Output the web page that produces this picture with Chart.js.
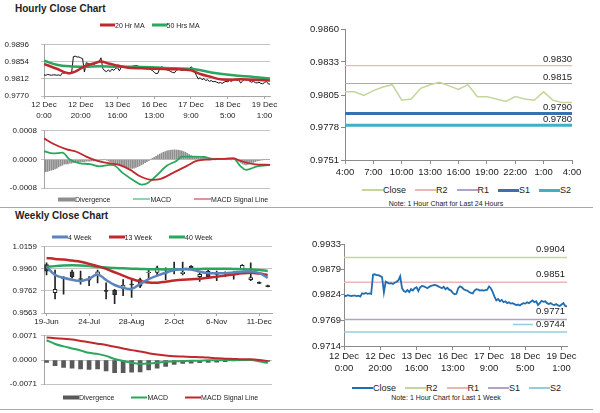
<!DOCTYPE html>
<html>
<head>
<meta charset="utf-8">
<script src="https://cdn.jsdelivr.net/npm/chart.js@4.4.1/dist/chart.umd.min.js"></script>
<style>
  body { margin: 0; background: #fff; width: 600px; height: 413px; position: relative; overflow: hidden;
         font-family: "Liberation Sans", Arial, sans-serif; color: #222; }
  canvas { position: absolute; }
  .title { position: absolute; left: 15px; font-weight: bold; font-size: 10px; line-height: 12px; }
  .legend { position: absolute; display: flex; align-items: center; white-space: nowrap; transform: translateY(-50%); }
  .legend .item { display: flex; align-items: center; }
  .note { position: absolute; font-size: 7px; white-space: nowrap; transform: translate(-50%, -50%); }
  .rule { position: absolute; left: 0; width: 593px; height: 1px; background: #a8a8a8; }
</style>
</head>
<body>
<div class="title" style="top:3px">Hourly Close Chart</div>
<div class="title" style="top:210px">Weekly Close Chart</div>
<div class="rule" style="top:207px"></div>
<div class="rule" style="top:409px"></div>
<div class="note" style="left:446px;top:203px">Note: 1 Hour Chart for Last 24 Hours</div>
<div class="note" style="left:446px;top:397px">Note: 1 Hour Chart for Last 1 Week</div>

<canvas id="hourPrice" width="280" height="96" style="left:0;top:28px"></canvas>
<canvas id="hourMacd" width="280" height="75" style="left:0;top:122px"></canvas>
<canvas id="weekPrice" width="282" height="91" style="left:0;top:238px"></canvas>
<canvas id="weekMacd" width="282" height="66" style="left:0;top:327px"></canvas>
<canvas id="dayLevels" width="285" height="158" style="left:300px;top:22px"></canvas>
<canvas id="weekLevels" width="280" height="140" style="left:300px;top:238px"></canvas>

<script>
// ---- hourly data, last week (124 hours) ----
const hourTickIdx = [0, 20, 40, 60, 80, 100, 120];
const hourTickDay = ["12 Dec", "12 Dec", "13 Dec", "16 Dec", "17 Dec", "18 Dec", "19 Dec"];
const hourTickTime = ["0:00", "20:00", "16:00", "13:00", "9:00", "5:00", "1:00"];

const hourClose = [
  0.9822, 0.9821, 0.9823, 0.9822, 0.9821, 0.9822, 0.9822, 0.9821, 0.9822, 0.9820,
  0.9827, 0.9826, 0.9828, 0.9826, 0.9827, 0.9826, 0.9867, 0.9868, 0.9866, 0.9866,
  0.9864, 0.9862, 0.9829, 0.9852, 0.9850, 0.9848, 0.9849, 0.9847, 0.9850, 0.9852,
  0.9855, 0.9864, 0.9838, 0.9832, 0.9830, 0.9834, 0.9830, 0.9836, 0.9833, 0.9838,
  0.9840, 0.9832, 0.9840, 0.9843, 0.9842, 0.9840, 0.9838, 0.9841, 0.9843, 0.9844,
  0.9845, 0.9844, 0.9842, 0.9840, 0.9838, 0.9841, 0.9836, 0.9839, 0.9835, 0.9833,
  0.9828, 0.9825, 0.9826, 0.9838, 0.9842, 0.9840, 0.9836, 0.9834, 0.9833, 0.9830,
  0.9828, 0.9827, 0.9833, 0.9836, 0.9835, 0.9833, 0.9834, 0.9833, 0.9834, 0.9835,
  0.9842, 0.9838, 0.9830, 0.9820, 0.9812, 0.9815, 0.9810, 0.9813, 0.9808, 0.9810,
  0.9806, 0.9808, 0.9805, 0.9806, 0.9804, 0.9802, 0.9803, 0.9801, 0.9804, 0.9806,
  0.9805, 0.9808, 0.9806, 0.9809, 0.9812, 0.9808, 0.9810, 0.9802, 0.9806, 0.9811,
  0.9809, 0.9810, 0.9806, 0.9804, 0.9806, 0.9803, 0.9802, 0.9804, 0.9801, 0.9800,
  0.9803, 0.9806, 0.9800, 0.9799
];

const ma20Idx = [0, 7, 14, 17, 22, 27, 31, 35, 40, 45, 53, 62, 71, 80, 85, 91, 96, 102, 107, 114, 123];
const ma20Val = [0.9849, 0.9837, 0.9826, 0.9830, 0.9843, 0.9850, 0.9855, 0.9850, 0.9845, 0.9840, 0.9838,
                 0.9837, 0.9836, 0.9833, 0.9824, 0.9817, 0.9811, 0.9810, 0.9811, 0.9810, 0.9808];
const ma50Idx = [0, 7, 14, 22, 30, 40, 49, 62, 71, 80, 91, 103, 114, 123];
const ma50Val = [0.9857, 0.9847, 0.9843, 0.9842, 0.9843, 0.9842, 0.9842, 0.9840, 0.9838, 0.9837,
                 0.9828, 0.9821, 0.9817, 0.9813];

const macdIdx = [0, 5, 10, 14, 19, 25, 30, 36, 38, 43, 49, 53, 56, 61, 67, 72, 75, 81, 87, 92, 98, 103, 107, 110, 116, 123];
const macdVal = [0.00023, 0.00017, 0.00019, 0.0, -0.0001, -0.00013, -0.00019, -0.00015, -0.00016, -0.00038,
                 -0.00059, -0.0007, -0.00067, -0.00046, -0.00017, -0.00004, 0.00008, 0.00008, 0.00007, 0.00002,
                 0.00002, 0.00003, -0.00019, -0.00029, -0.00019, -0.00015];
const signalIdx = [0, 5, 12, 18, 23, 29, 36, 41, 47, 52, 59, 63, 70, 78, 83, 90, 98, 103, 107, 114, 123];
const signalVal = [0.00059, 0.00044, 0.00029, 0.00021, 0.00008, -0.00004, -0.00011, -0.00015, -0.00029, -0.00046,
                   -0.00057, -0.00055, -0.00038, -0.00017, -0.00004, 0.0, 0.00002, 0.00003, -0.00004, -0.00013, -0.00015];
const hourDiv = [
  -0.00035, -0.00034, -0.00033, -0.00031, -0.0003, -0.00028, -0.00026, -0.00024, -0.00021, -0.00018,
  -0.00016, -0.00013, -0.00012, -0.00012, -0.0001, -0.0001, -0.00009, -0.00008, -0.00008, -0.00007,
  -0.00007, -0.00006, -0.00006, -0.00005, -0.00005, -0.00005, -0.00004, -0.00004, -0.00003, -0.00003,
  -0.00003, -0.00002, -0.00001, 0.0, -0.00002, -0.00004, -0.00006, -0.00008, -0.0001, -0.00012,
  -0.00014, -0.00016, -0.00018, -0.0002, -0.00021, -0.00022, -0.00023, -0.00024, -0.00025, -0.00024,
  -0.00022, -0.0002, -0.00018, -0.00015, -0.00012, -0.00009, -0.00006, -0.00003, 0.0, 0.00003,
  0.00006, 0.00009, 0.00012, 0.00015, 0.00018, 0.0002, 0.00022, 0.00024, 0.00025, 0.00026,
  0.00026, 0.00027, 0.00026, 0.00026, 0.00025, 0.00024, 0.00022, 0.0002, 0.00017, 0.00014,
  0.00011, 0.00009, 0.00008, 0.00007, 0.00006, 0.00005, 0.00004, 0.00004, 0.00003, 0.00002,
  0.00001, 0.0, 0.0, -0.00001, 0.0, 0.00001, 0.00001, 0.0, 0.0, 0.00001,
  0.0, 0.0, -0.00001, 0.0, 0.00001, 0.0, -0.00004, -0.00008, -0.00012, -0.00014,
  -0.00015, -0.00014, -0.00012, -0.0001, -0.00008, -0.00006, -0.00004, -0.00003, -0.00002, -0.00001,
  0.0, 0.0, 0.0, 0.0
];

// ---- weekly data (27 weeks) ----
const weekTickIdx = [0, 5, 10, 15, 20, 25];
const weekTickText = ["19-Jun", "24-Jul", "28-Aug", "2-Oct", "6-Nov", "11-Dec"];
const weekOpen  = [0.9998, 0.9747, 0.9882, 0.9934, 0.9874, 0.9866, 0.9905, 0.9766, 0.9768, 0.9785, 0.9824, 0.9863, 0.9924, 0.9928,
                   0.9929, 0.9967, 0.9918, 0.9986, 0.9891, 0.9940, 0.9918, 0.9924, 0.9924, 0.9963, 0.9863, 0.9838, 0.9809];
const weekClose = [0.9940, 0.9776, 0.9872, 0.9891, 0.9866, 0.9858, 0.9934, 0.9758, 0.9728, 0.9814, 0.9816, 0.9805, 0.9932, 0.9969,
                   0.9921, 0.9959, 0.9930, 0.9969, 0.9911, 0.9891, 0.9910, 0.9916, 0.9916, 0.9992, 0.9883, 0.9830, 0.9801];
const weekHigh  = [1.0015, 0.9949, 0.9890, 0.9949, 0.9940, 0.9891, 0.9949, 0.9834, 0.9776, 0.9863, 0.9871, 0.9877, 0.9949, 0.9986,
                   0.9969, 1.0021, 1.0021, 0.9990, 0.9920, 0.9949, 0.9940, 0.9934, 0.9934, 0.9998, 1.0015, 0.9843, 0.9814];
const weekLow   = [0.9906, 0.9690, 0.9733, 0.9877, 0.9822, 0.9808, 0.9834, 0.9690, 0.9647, 0.9719, 0.9704, 0.9791, 0.9877, 0.9906,
                   0.9863, 0.9914, 0.9906, 0.9963, 0.9848, 0.9877, 0.9854, 0.9891, 0.9868, 0.9957, 0.9854, 0.9826, 0.9797];
const ma4w  = [0.9980, 0.9906, 0.9880, 0.9862, 0.9852, 0.9870, 0.9910, 0.9860, 0.9815, 0.9790, 0.9780, 0.9825, 0.9868, 0.9900,
               0.9925, 0.9950, 0.9958, 0.9955, 0.9935, 0.9922, 0.9920, 0.9922, 0.9928, 0.9935, 0.9936, 0.9922, 0.9880];
const ma13w = [1.0058, 1.0050, 1.0045, 1.0035, 1.0025, 1.0005, 0.9985, 0.9960, 0.9930, 0.9900, 0.9870, 0.9848, 0.9838, 0.9836,
               0.9845, 0.9855, 0.9862, 0.9866, 0.9872, 0.9880, 0.9890, 0.9900, 0.9910, 0.9920, 0.9925, 0.9918, 0.9905];
const ma40w = [0.9978, 0.9985, 0.9990, 0.9992, 0.9990, 0.9985, 0.9978, 0.9972, 0.9968, 0.9965, 0.9962, 0.9960, 0.9958, 0.9956,
               0.9955, 0.9956, 0.9958, 0.9960, 0.9960, 0.9961, 0.9962, 0.9962, 0.9960, 0.9958, 0.9955, 0.9950, 0.9942];
const weekMacd   = [0.0058, 0.0047, 0.0040, 0.0034, 0.0028, 0.0021, 0.0018, 0.0012, 0.0003, -0.0003, -0.0008, -0.0011, -0.0010, -0.0008,
                    -0.0005, -0.0004, -0.0003, -0.0002, -0.0002, -0.0001, -0.0001, 0.0, 0.0, 0.0, 0.0, -0.0004, -0.0009];
const weekSignal = [0.0066, 0.0064, 0.0062, 0.0060, 0.0056, 0.0052, 0.0048, 0.0044, 0.0039, 0.0034, 0.0029, 0.0025, 0.0020, 0.0016,
                    0.0013, 0.0011, 0.0010, 0.0009, 0.0008, 0.0007, 0.0005, 0.0004, 0.0003, 0.0002, 0.0002, 0.0000, -0.0003];
const weekDiv    = [-0.0007, -0.0017, -0.0022, -0.0024, -0.0026, -0.0028, -0.0026, -0.0032, -0.0037, -0.0037, -0.0036, -0.0035, -0.0029, -0.0024,
                    -0.0019, -0.0013, -0.0010, -0.0009, -0.0008, -0.0007, -0.0006, -0.0005, -0.0003, -0.0002, -0.0001, -0.0001, -0.0004];

// ---- last 24 hours ----
const dayTickIdx = [0, 3, 6, 9, 12, 15, 18, 21, 24];
const dayTickText = ["4:00", "7:00", "10:00", "13:00", "16:00", "19:00", "22:00", "1:00", "4:00"];
const dayClose = [0.9808, 0.9808, 0.9805, 0.9809, 0.9812, 0.9814, 0.9801, 0.9802, 0.9811, 0.9814, 0.9816, 0.9813, 0.9810,
                  0.9814, 0.9804, 0.9804, 0.9802, 0.9800, 0.9804, 0.9802, 0.9801, 0.9808, 0.9801, 0.9799, 0.9799];
const dayLevelNames = ["R2", "R1", "S1", "S2"];
const dayLevelValues = [0.9830, 0.9815, 0.9790, 0.9780];
const weekLevelNames = ["R2", "R1", "S1", "S2"];
const weekLevelValues = [0.9904, 0.9851, 0.9771, 0.9744];

// y tick values
const hourPriceTicks = [0.9770, 0.9812, 0.9854, 0.9896];
const hourMacdTicks = [-0.0008, 0, 0.0008];
const weekPriceTicks = [0.9563, 0.9762, 0.9960, 1.0159];
const weekMacdTicks = [-0.0071, 0, 0.0071];
const dayTicks = [0.9751, 0.9778, 0.9805, 0.9833, 0.9860];
const weekLevelTicks = [0.9714, 0.9769, 0.9824, 0.9879, 0.9933];

Chart.defaults.font.family = "Liberation Sans";
Chart.defaults.color = "#222";
Chart.defaults.animation = false;
Chart.defaults.plugins.legend.display = false;
Chart.defaults.plugins.tooltip.enabled = false;
Chart.defaults.elements.point.radius = 0;

const pts = (xs, ys) => xs.map((x, i) => ({ x: x, y: ys[i] }));
const seq = ys => ys.map((y, i) => ({ x: i, y: y }));

// y axis with fixed width and given tick values
function yScale(ticks, width, font, pad, tickLen, onArea) {
  return {
    min: ticks[0], max: ticks[ticks.length - 1],
    afterBuildTicks: s => { s.ticks = ticks.map(v => ({ value: v })); },
    afterFit: s => { s.width = width; },
    ticks: { font: font, padding: pad, callback: v => v.toFixed(4) },
    grid: { color: onArea ? "#c4c4c4" : "#8a8a8a", drawOnChartArea: onArea, tickLength: tickLen },
    border: { color: onArea ? "#a6a6a6" : "#8a8a8a" }
  };
}

// x axis (linear) with labels only at given positions
function xScale(min, max, idx, labelOf, height, font, pad, tickLen, color) {
  return {
    type: "linear", min: min, max: max, offset: false,
    afterBuildTicks: s => { s.ticks = idx.map(v => ({ value: v })); },
    afterFit: s => { s.height = height; },
    ticks: { font: font, padding: pad, maxRotation: 0, autoSkip: false,
             callback: v => { const k = idx.indexOf(v); return k < 0 ? "" : labelOf(k); } },
    grid: { drawOnChartArea: false, tickLength: tickLen, color: color, offset: false },
    border: { color: color }
  };
}

// level value captions at the right end of each level line
const levelText = {
  id: "levelText",
  afterDatasetsDraw(chart, args, opts) {
    const { ctx, chartArea } = chart;
    const y = chart.scales.y;
    ctx.save();
    ctx.font = opts.font;
    ctx.fillStyle = "#222";
    ctx.textAlign = "right";
    ctx.textBaseline = "middle";
    opts.values.forEach(v => {
      ctx.fillText(v.toFixed(4), chartArea.right - opts.inset, y.getPixelForValue(v) - opts.lift);
    });
    if (opts.marker) {
      // short stray line sample left of the last caption, as in the original
      const v = opts.values[opts.values.length - 1];
      const py = Math.round(y.getPixelForValue(v) - opts.lift) + 0.5;
      const w = ctx.measureText(v.toFixed(4)).width;
      const x1 = chartArea.right - opts.inset - w - 3;
      ctx.strokeStyle = opts.marker;
      ctx.lineWidth = 1.5;
      ctx.beginPath(); ctx.moveTo(x1 - 20, py); ctx.lineTo(x1, py); ctx.stroke();
    }
    ctx.restore();
  }
};

function legend(chart, left, top, gap, fontSize, sampleW) {
  const box = document.createElement("div");
  box.className = "legend";
  box.style.left = left + "px";
  box.style.top = top + "px";
  box.style.fontSize = fontSize + "px";
  chart.data.datasets.filter(d => d.inLegend).forEach((d, k) => {
    const item = document.createElement("span");
    item.className = "item";
    if (k) item.style.marginLeft = gap + "px";
    const sw = document.createElement("span");
    sw.style.display = "inline-block";
    sw.style.width = sampleW + "px";
    sw.style.height = (d.type === "bar" ? 4 : Math.max(1, d.borderWidth)) + "px";
    sw.style.background = d.type === "bar" ? d.backgroundColor : d.borderColor;
    item.appendChild(sw);
    item.appendChild(document.createTextNode(d.label));
    box.appendChild(item);
  });
  document.body.appendChild(box);
}

const fL = { size: 8 };
const red = "#c0282d", green = "#2aa65e", blue = "#5b84bf";

// 1. hourly close with moving averages
const hourPrice = new Chart(document.getElementById("hourPrice"), {
  type: "line",
  data: { datasets: [
    { label: "20 Hr MA", data: pts(ma20Idx, ma20Val), borderColor: red, borderWidth: 2.5, cubicInterpolationMode: "monotone", order: 0, inLegend: true },
    { label: "50 Hrs MA", data: pts(ma50Idx, ma50Val), borderColor: green, borderWidth: 2.5, cubicInterpolationMode: "monotone", order: 1, inLegend: true },
    { label: "Close", data: seq(hourClose), borderColor: "#111", borderWidth: 1, order: 2 }
  ] },
  options: {
    responsive: false,
    layout: { padding: { top: 6, right: 10, left: 0, bottom: 0 } },
    scales: {
      x: xScale(0, 123, hourTickIdx, k => [hourTickDay[k], hourTickTime[k]], 28, { size: 8, lineHeight: 1.4 }, 0, 3, "#a6a6a6"),
      y: yScale(hourPriceTicks, 44, fL, 12, 3, true)
    }
  }
});
legend(hourPrice, 100, 25, 7, 7, 15);

// 2. hourly MACD
const hourMacd = new Chart(document.getElementById("hourMacd"), {
  type: "line",
  data: { datasets: [
    { type: "bar", label: "Divergence", data: seq(hourDiv), backgroundColor: "#8e8e8e", barThickness: 1, order: 2, inLegend: true },
    { label: "MACD", data: pts(macdIdx, macdVal), borderColor: green, borderWidth: 1.8, cubicInterpolationMode: "monotone", order: 1, inLegend: true },
    { label: "MACD Signal Line", data: pts(signalIdx, signalVal), borderColor: red, borderWidth: 1.8, cubicInterpolationMode: "monotone", order: 0, inLegend: true }
  ] },
  options: {
    responsive: false,
    layout: { padding: { top: 6, right: 10, left: 0, bottom: 6 } },
    scales: {
      x: { type: "linear", min: 0, max: 123, offset: false, display: false },
      y: yScale(hourMacdTicks, 44, fL, 4, 3, true)
    }
  }
});
legend(hourMacd, 58, 199, 23, 7, 17);

// 3. weekly candles with moving averages
const bodyColors = weekOpen.map((o, i) => (weekClose[i] > o ? "#ffffff" : "#3c3c3c"));
const weekPrice = new Chart(document.getElementById("weekPrice"), {
  type: "line",
  data: { datasets: [
    { label: "4 Week", data: seq(ma4w), borderColor: blue, borderWidth: 2.5, tension: 0.4, order: 0, inLegend: true },
    { label: "13 Week", data: seq(ma13w), borderColor: red, borderWidth: 2.5, tension: 0.4, order: 1, inLegend: true },
    { label: "40 Week", data: seq(ma40w), borderColor: green, borderWidth: 2.5, tension: 0.4, order: 2, inLegend: true },
    { type: "bar", data: weekOpen.map((o, i) => ({ x: i, y: [o, weekClose[i]] })), backgroundColor: bodyColors,
      borderColor: "#222", borderWidth: 1, borderSkipped: false, barThickness: 4, grouped: false, order: 3 },
    { type: "bar", data: weekLow.map((l, i) => ({ x: i, y: [l, weekHigh[i]] })), backgroundColor: "#222",
      barThickness: 1, grouped: false, order: 4 }
  ] },
  options: {
    responsive: false,
    layout: { padding: { top: 6, right: 10, left: 0, bottom: 0 } },
    scales: {
      x: xScale(-0.3, 26.5, weekTickIdx, k => weekTickText[k], 16, fL, 1, 3, "#a6a6a6"),
      y: yScale(weekPriceTicks, 44, fL, 4, 3, true)
    }
  }
});
legend(weekPrice, 52, 237, 17, 7, 16);

// 4. weekly MACD
const weekMacdChart = new Chart(document.getElementById("weekMacd"), {
  type: "line",
  data: { datasets: [
    { type: "bar", label: "Divergence", data: seq(weekDiv), backgroundColor: "#595959", barThickness: 4, order: 2, inLegend: true },
    { label: "MACD", data: seq(weekMacd), borderColor: green, borderWidth: 2, tension: 0.3, order: 1, inLegend: true },
    { label: "MACD Signal Line", data: seq(weekSignal), borderColor: red, borderWidth: 2, tension: 0.3, order: 0, inLegend: true }
  ] },
  options: {
    responsive: false,
    layout: { padding: { top: 6, right: 10, left: 0, bottom: 6 } },
    scales: {
      x: { type: "linear", min: -0.3, max: 26.5, offset: false, display: false },
      y: yScale(weekMacdTicks, 44, fL, 4, 3, true)
    }
  }
});
legend(weekMacdChart, 63, 397, 17, 7, 16);

// 5. last 24 hours with support / resistance
const dayColors = ["#e6b9b8", "#b3a2c7", "#3a6fb0", "#3fb0c5"];
const dayWidths = [1.2, 1.2, 3, 3];
const dayLevels = new Chart(document.getElementById("dayLevels"), {
  type: "line",
  data: { datasets: [
    { label: "Close", data: seq(dayClose), borderColor: "#c3d69b", borderWidth: 1.5, inLegend: true }
  ].concat(dayLevelNames.map((n, k) => ({
    label: n, data: [{ x: 0, y: dayLevelValues[k] }, { x: 24, y: dayLevelValues[k] }],
    borderColor: dayColors[k], borderWidth: dayWidths[k], inLegend: true
  }))) },
  options: {
    responsive: false,
    layout: { padding: { top: 6, right: 13, left: 0, bottom: 0 } },
    plugins: { levelText: { values: dayLevelValues, font: "9.5px Liberation Sans", inset: 0, lift: 6 } },
    scales: {
      x: xScale(0, 24, dayTickIdx, k => dayTickText[k], 20, { size: 9.5 }, 3, 4, "#8a8a8a"),
      y: yScale(dayTicks, 45, { size: 9.5 }, 2, 4, false)
    }
  },
  plugins: [levelText]
});
legend(dayLevels, 362, 190, 9, 9, 21);

// 6. last week with support / resistance
const weekColors = ["#c3d69b", "#e6b9b8", "#b3a2c7", "#93cddd"];
const weekLevels = new Chart(document.getElementById("weekLevels"), {
  type: "line",
  data: { datasets: [
    { label: "Close", data: seq(hourClose), borderColor: "#1f6db3", borderWidth: 1.8, inLegend: true }
  ].concat(weekLevelNames.map((n, k) => ({
    label: n, data: [{ x: 0, y: weekLevelValues[k] }, { x: 123, y: weekLevelValues[k] }],
    borderColor: weekColors[k], borderWidth: 1.5, inLegend: true
  }))) },
  options: {
    responsive: false,
    layout: { padding: { top: 6, right: 13, left: 0, bottom: 0 } },
    plugins: { levelText: { values: weekLevelValues, font: "9.5px Liberation Sans", inset: 2, lift: 8, marker: "#93cddd" } },
    scales: {
      x: xScale(0, 123, hourTickIdx, k => [hourTickDay[k], hourTickTime[k]], 32, { size: 9.5, lineHeight: 1.26 }, 0, 4, "#8a8a8a"),
      y: yScale(weekLevelTicks, 44, { size: 9.5 }, 0, 3, false)
    }
  },
  plugins: [levelText]
});
legend(weekLevels, 352, 388, 9, 9, 21);
</script>
</body>
</html>
